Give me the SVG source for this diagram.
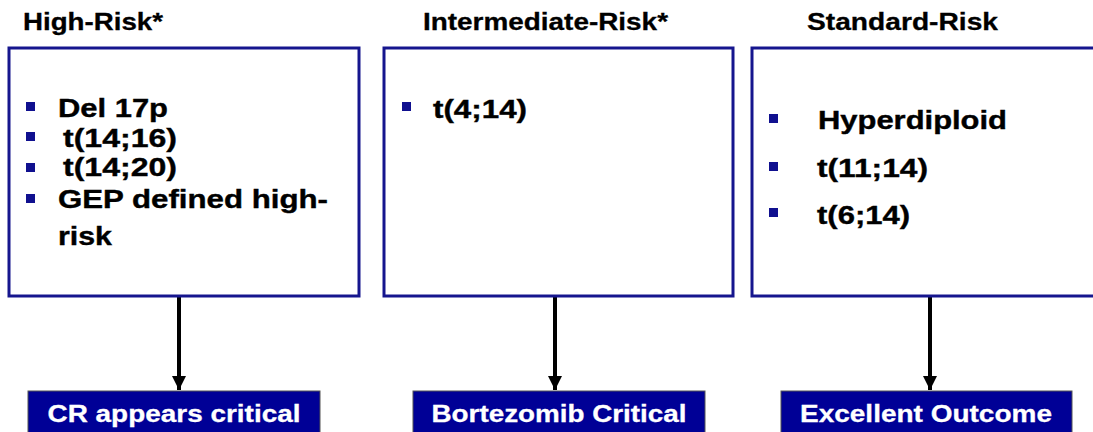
<svg xmlns="http://www.w3.org/2000/svg" width="1093" height="432" viewBox="0 0 1093 432">
<defs>
<style>
.box{fill:#fff;stroke:#16168e;stroke-width:3}
.title{font-family:"Liberation Sans",Arial,sans-serif;font-weight:bold;font-size:24px;fill:#000;stroke:#000;stroke-width:0.3}
.body{font-family:"Liberation Sans",Arial,sans-serif;font-weight:bold;font-size:26px;fill:#000;stroke:#000;stroke-width:0.4}
.bul{fill:#10108f}
.lab{fill:#000096;stroke:#555;stroke-width:1}
.labt{font-family:"Liberation Sans",Arial,sans-serif;font-weight:bold;font-size:24px;fill:#fff;stroke:#fff;stroke-width:0.3;text-anchor:middle}
.conn{stroke:#000;stroke-width:4;fill:none}
</style>
<marker id="ah" markerUnits="userSpaceOnUse" markerWidth="14" markerHeight="14" viewBox="0 0 14 14" refX="14" refY="7" orient="auto">
<path d="M0,0 L14,7 L0,14 Z" fill="#000"/>
</marker>
</defs>
<rect width="1093" height="432" fill="#fff"/>
<g id="connectors">
<line class="conn" x1="179" y1="296" x2="179" y2="390" marker-end="url(#ah)"/>
<line class="conn" x1="555" y1="296" x2="555" y2="390" marker-end="url(#ah)"/>
<line class="conn" x1="930" y1="296" x2="930" y2="390" marker-end="url(#ah)"/>
</g>
<g id="high-risk">
<text class="title" x="23" y="30" textLength="140" lengthAdjust="spacingAndGlyphs">High-Risk*</text>
<rect class="box" x="9" y="48" width="350" height="248"/>
<rect class="bul" x="26" y="102" width="9" height="9"/>
<rect class="bul" x="26" y="132" width="9" height="9"/>
<rect class="bul" x="26" y="163" width="9" height="9"/>
<rect class="bul" x="26" y="194" width="9" height="9"/>
<text class="body" x="58" y="117" textLength="110" lengthAdjust="spacingAndGlyphs">Del 17p</text>
<text class="body" x="63" y="147" textLength="114" lengthAdjust="spacingAndGlyphs">t(14;16)</text>
<text class="body" x="63" y="176" textLength="114" lengthAdjust="spacingAndGlyphs">t(14;20)</text>
<text class="body" x="58" y="208" textLength="270" lengthAdjust="spacingAndGlyphs">GEP defined high-</text>
<text class="body" x="58" y="245" textLength="54" lengthAdjust="spacingAndGlyphs">risk</text>
</g>
<g id="intermediate-risk">
<text class="title" x="423" y="30" textLength="245" lengthAdjust="spacingAndGlyphs">Intermediate-Risk*</text>
<rect class="box" x="384" y="48" width="349" height="248"/>
<rect class="bul" x="402" y="102" width="9" height="9"/>
<text class="body" x="433" y="118" textLength="94" lengthAdjust="spacingAndGlyphs">t(4;14)</text>
</g>
<g id="standard-risk">
<text class="title" x="807" y="30" textLength="191" lengthAdjust="spacingAndGlyphs">Standard-Risk</text>
<rect class="box" x="752" y="48" width="360" height="248"/>
<rect class="bul" x="769" y="114" width="9" height="9"/>
<rect class="bul" x="769" y="162" width="9" height="9"/>
<rect class="bul" x="769" y="208" width="9" height="9"/>
<text class="body" x="818" y="129" textLength="189" lengthAdjust="spacingAndGlyphs">Hyperdiploid</text>
<text class="body" x="817" y="177" textLength="111" lengthAdjust="spacingAndGlyphs">t(11;14)</text>
<text class="body" x="817" y="224" textLength="93" lengthAdjust="spacingAndGlyphs">t(6;14)</text>
</g>
<g id="cr-appears-critical">
<rect class="lab" x="28" y="391" width="292" height="50"/>
<text class="labt" x="174" y="422" textLength="253" lengthAdjust="spacingAndGlyphs">CR appears critical</text>
</g>
<g id="bortezomib-critical">
<rect class="lab" x="413" y="391" width="292" height="50"/>
<text class="labt" x="559" y="422" textLength="255" lengthAdjust="spacingAndGlyphs">Bortezomib Critical</text>
</g>
<g id="excellent-outcome">
<rect class="lab" x="781" y="391" width="291" height="50"/>
<text class="labt" x="926" y="422" textLength="252" lengthAdjust="spacingAndGlyphs">Excellent Outcome</text>
</g>
</svg>
